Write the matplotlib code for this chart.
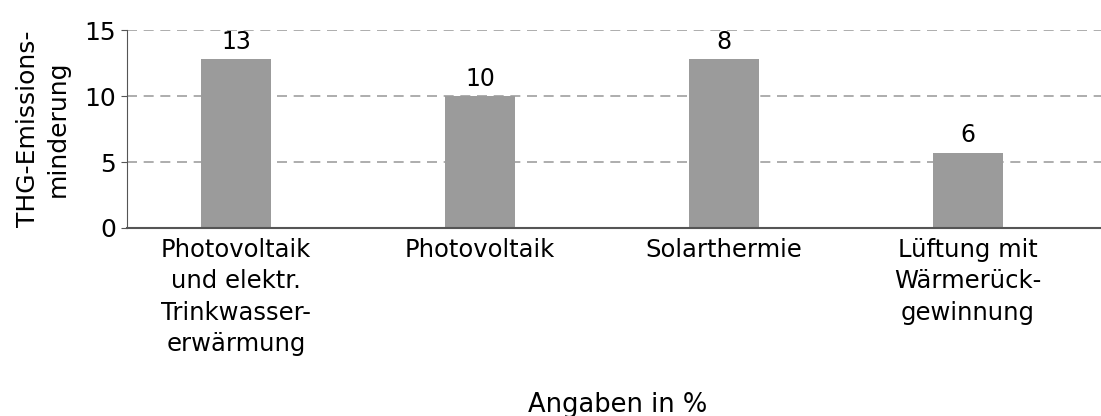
import matplotlib.pyplot as plt

categories = ["Photovoltaik\nund elektr.\nTrinkwasser-\nerwärmung", "Photovoltaik",
              "Solarthermie", "Lüftung mit\nWärmerück-\ngewinnung"]
bar_heights = [12.8, 10.0, 12.8, 5.7]
value_labels = ["13", "10", "8", "6"]

plt.rcParams["font.family"] = "DejaVu Sans"

fig = plt.figure(figsize=(11.01, 4.16), dpi=100)
ax = fig.add_axes([0.1153, 0.452, 0.8847, 0.475])

x = range(len(categories))
bars = ax.bar(x, bar_heights, width=0.29, color="#9b9b9b", zorder=2)
ax.bar_label(bars, labels=value_labels, padding=4, fontsize=17)

ax.set_xlim(-0.447, 3.545)
ax.set_ylim(0, 15)
ax.set_yticks([0, 5, 10, 15])
ax.set_xticks(list(x))
ax.set_xticklabels(categories, fontsize=17.5, linespacing=1.4)
ax.tick_params(axis="x", length=0, pad=7)
ax.tick_params(axis="y", labelsize=18, length=4, color="#555555", pad=4)

ax.grid(axis="y", linestyle=(0, (6, 4)), color="#9f9f9f", linewidth=1.2, zorder=0)
ax.spines[["top", "right"]].set_visible(False)
ax.spines["left"].set_color("#555555")
ax.spines["bottom"].set_color("#555555")
ax.spines["bottom"].set_linewidth(1.5)

ax.set_ylabel("THG-Emissions-\nminderung", fontsize=18, labelpad=10, linespacing=1.35)
fig.text(0.561, 0.01, "Angaben in %", fontsize=18.5, ha="center", va="baseline")

fig.savefig("out.png", dpi=100)
